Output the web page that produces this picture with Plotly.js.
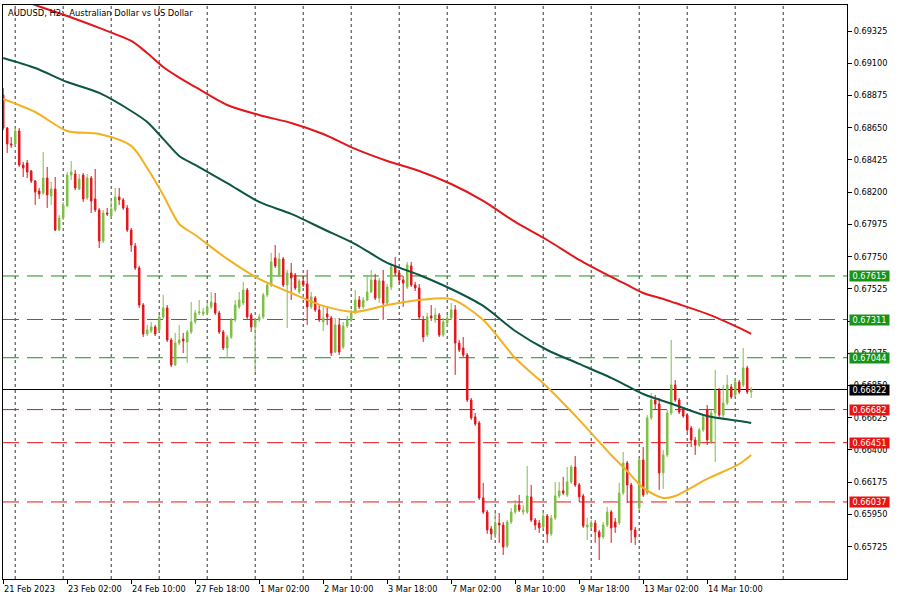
<!DOCTYPE html>
<html><head><meta charset="utf-8">
<script src="https://cdn.plot.ly/plotly-3.0.1.min.js"></script>
<style>html,body{margin:0;padding:0;background:#fff}#chart{width:900px;height:600px}</style>
</head><body><div id="chart"></div>
<script>
// AUDUSD H2 bars, first bar = 21 Feb 2023 18:00, one bar per 2 hours (weekends skipped)
const openP = [
0.68879,0.68648,0.68537,0.68537,0.68627,0.68390,0.68404,0.68348,0.68278,0.68208,
0.68194,0.68299,0.68174,0.68222,0.67936,0.68020,0.68104,0.68320,0.68327,0.68222,
0.68320,0.68160,0.68299,0.68153,0.68076,0.67859,0.68055,0.68034,0.68076,0.68167,
0.68146,0.68090,0.67936,0.67824,0.67671,0.67412,0.67210,0.67231,0.67259,0.67238,
0.67329,0.67392,0.67168,0.66994,0.67147,0.67175,0.67154,0.67224,0.67294,0.67357,
0.67350,0.67357,0.67399,0.67426,0.67357,0.67224,0.67112,0.67189,0.67308,0.67399,
0.67426,0.67517,0.67343,0.67259,0.67308,0.67329,0.67482,0.67552,0.67741,0.67622,
0.67734,0.67552,0.67636,0.67622,0.67503,0.67580,0.67559,0.67399,0.67461,0.67378,
0.67294,0.67350,0.67322,0.67084,0.67273,0.67119,0.67266,0.67308,0.67357,0.67447,
0.67399,0.67447,0.67503,0.67587,0.67461,0.67580,0.67426,0.67538,0.67685,0.67636,
0.67587,0.67538,0.67685,0.67552,0.67531,0.67308,0.67203,0.67336,0.67308,0.67343,
0.67203,0.67287,0.67322,0.67378,0.67147,0.67112,0.67063,0.66749,0.66631,0.66589,
0.66065,0.65967,0.65849,0.65814,0.65890,0.65876,0.65730,0.65897,0.65967,0.66016,
0.65967,0.65967,0.66072,0.65911,0.65890,0.65862,0.65939,0.65814,0.65925,0.66079,
0.66114,0.66086,0.66177,0.66281,0.66156,0.66079,0.65862,0.65862,0.65890,0.65828,
0.65793,0.65876,0.65967,0.65897,0.65890,0.66100,0.66309,0.66156,0.65842,0.65995,
0.66330,0.66100,0.66624,0.66749,0.66721,0.66240,0.66365,0.66658,0.66854,0.66749,
0.66679,0.66644,0.66554,0.66470,0.66435,0.66540,0.66679,0.66456,0.66658,0.66819,
0.66644,0.66728,0.66840,0.66784,0.66875,0.66854,0.66973,0.66805];
const highP = [
0.68928,0.68655,0.68585,0.68648,0.68648,0.68411,0.68425,0.68355,0.68285,0.68229,
0.68481,0.68376,0.68271,0.68306,0.68041,0.68132,0.68341,0.68418,0.68355,0.68327,
0.68334,0.68327,0.68313,0.68362,0.68090,0.68076,0.68090,0.68146,0.68229,0.68229,
0.68160,0.68111,0.67950,0.67845,0.67685,0.67426,0.67273,0.67294,0.67273,0.67343,
0.67482,0.67412,0.67182,0.67217,0.67273,0.67217,0.67238,0.67433,0.67378,0.67447,
0.67392,0.67426,0.67503,0.67496,0.67371,0.67238,0.67203,0.67322,0.67447,0.67503,
0.67573,0.67531,0.67357,0.67322,0.67350,0.67496,0.67573,0.67776,0.67831,0.67776,
0.67748,0.67657,0.67706,0.67636,0.67594,0.67615,0.67657,0.67503,0.67475,0.67412,
0.67412,0.67399,0.67336,0.67322,0.67322,0.67294,0.67336,0.67378,0.67517,0.67475,
0.67468,0.67622,0.67657,0.67629,0.67601,0.67657,0.67559,0.67699,0.67748,0.67657,
0.67615,0.67713,0.67713,0.67573,0.67559,0.67336,0.67357,0.67412,0.67392,0.67357,
0.67322,0.67343,0.67426,0.67412,0.67168,0.67189,0.67077,0.66763,0.66658,0.66603,
0.66170,0.65981,0.65869,0.65960,0.65960,0.65897,0.65911,0.65995,0.66051,0.66086,
0.66016,0.66288,0.66156,0.65925,0.65911,0.65967,0.65953,0.65946,0.66177,0.66177,
0.66212,0.66281,0.66295,0.66358,0.66170,0.66093,0.65925,0.65911,0.65911,0.65842,
0.65897,0.66002,0.65981,0.65925,0.66170,0.66386,0.66323,0.66170,0.65862,0.66344,
0.66421,0.66644,0.66798,0.66784,0.66763,0.66400,0.66679,0.67168,0.66889,0.66763,
0.66700,0.66658,0.66568,0.66491,0.66554,0.66651,0.66714,0.66679,0.66959,0.66833,
0.66854,0.66924,0.66861,0.66903,0.66889,0.67112,0.66987,0.66840];
const lowP = [
0.68634,0.68474,0.68509,0.68523,0.68376,0.68306,0.68299,0.68264,0.68111,0.68153,
0.68181,0.68090,0.68111,0.67929,0.67929,0.68006,0.68097,0.68285,0.68215,0.68215,
0.68132,0.68146,0.68055,0.68062,0.67810,0.67845,0.68034,0.68020,0.68062,0.68111,
0.68076,0.67922,0.67783,0.67657,0.67392,0.67189,0.67196,0.67217,0.67196,0.67224,
0.67315,0.67154,0.66980,0.66987,0.67133,0.67077,0.67008,0.67210,0.67280,0.67343,
0.67336,0.67343,0.67385,0.67343,0.67210,0.67098,0.67042,0.67175,0.67294,0.67385,
0.67412,0.67315,0.67224,0.66945,0.67294,0.67315,0.67468,0.67538,0.67671,0.67608,
0.67538,0.67252,0.67447,0.67517,0.67489,0.67538,0.67273,0.67385,0.67364,0.67294,
0.67231,0.67273,0.67056,0.67077,0.67063,0.67105,0.67252,0.67294,0.67350,0.67385,
0.67385,0.67440,0.67496,0.67447,0.67426,0.67308,0.67412,0.67517,0.67615,0.67559,
0.67399,0.67524,0.67538,0.67510,0.67308,0.67154,0.67189,0.67301,0.67287,0.67189,
0.67189,0.67259,0.67308,0.66924,0.67084,0.67049,0.66735,0.66610,0.66568,0.66051,
0.65953,0.65814,0.65772,0.65786,0.65751,0.65667,0.65716,0.65883,0.65953,0.65967,
0.65946,0.65953,0.65897,0.65842,0.65821,0.65849,0.65751,0.65800,0.65911,0.66065,
0.66086,0.66072,0.66163,0.66142,0.66037,0.65856,0.65772,0.65849,0.65751,0.65632,
0.65779,0.65862,0.65751,0.65821,0.65876,0.66086,0.66030,0.65751,0.65737,0.65981,
0.66072,0.66086,0.66610,0.66679,0.66121,0.66128,0.66351,0.66644,0.66735,0.66651,
0.66624,0.66526,0.66421,0.66365,0.66421,0.66526,0.66435,0.66442,0.66316,0.66631,
0.66631,0.66714,0.66756,0.66770,0.66791,0.66840,0.66791,0.66763];
const closeP = [
0.68648,0.68537,0.68530,0.68627,0.68390,0.68369,0.68341,0.68278,0.68201,0.68187,
0.68299,0.68181,0.68222,0.67936,0.68020,0.68111,0.68320,0.68341,0.68229,0.68292,
0.68153,0.68299,0.68139,0.68076,0.67859,0.68055,0.68048,0.68083,0.68167,0.68146,
0.68090,0.67936,0.67831,0.67671,0.67412,0.67210,0.67238,0.67259,0.67210,0.67329,
0.67392,0.67168,0.66994,0.67147,0.67168,0.67161,0.67224,0.67294,0.67357,0.67364,
0.67364,0.67399,0.67433,0.67357,0.67224,0.67112,0.67189,0.67308,0.67412,0.67447,
0.67517,0.67329,0.67259,0.67308,0.67329,0.67482,0.67552,0.67713,0.67685,0.67734,
0.67552,0.67636,0.67601,0.67531,0.67580,0.67552,0.67399,0.67468,0.67378,0.67308,
0.67322,0.67329,0.67077,0.67273,0.67084,0.67266,0.67308,0.67357,0.67447,0.67399,
0.67447,0.67503,0.67587,0.67461,0.67580,0.67426,0.67538,0.67678,0.67636,0.67587,
0.67566,0.67692,0.67552,0.67531,0.67329,0.67189,0.67329,0.67322,0.67343,0.67203,
0.67294,0.67322,0.67378,0.67147,0.67098,0.67063,0.66749,0.66624,0.66582,0.66065,
0.65967,0.65842,0.65814,0.65890,0.65876,0.65723,0.65897,0.65967,0.66016,0.65981,
0.65981,0.66079,0.65911,0.65876,0.65856,0.65939,0.65814,0.65925,0.66079,0.66114,
0.66100,0.66177,0.66281,0.66156,0.66072,0.65869,0.65876,0.65890,0.65828,0.65793,
0.65876,0.65967,0.65856,0.65862,0.66100,0.66309,0.66156,0.65842,0.65793,0.66330,
0.66086,0.66624,0.66749,0.66721,0.66240,0.66365,0.66658,0.66854,0.66749,0.66665,
0.66637,0.66540,0.66470,0.66435,0.66540,0.66631,0.66470,0.66658,0.66819,0.66644,
0.66728,0.66854,0.66770,0.66875,0.66805,0.66973,0.66805,0.66822];

// Moving averages, read at these bar numbers
const maBars = [0,8,16,24,32,36,40,44,48,56,64,72,80,88,96,104,112,120,128,136,144,152,156,160,165,168,176,184,187];
const ma50 = [0.68851,0.68760,0.68627,0.68606,0.68523,0.68369,0.68181,0.67978,0.67901,0.67734,0.67594,0.67496,0.67406,0.67364,0.67412,0.67447,0.67454,0.67308,0.67042,0.66840,0.66610,0.66365,0.66253,0.66135,0.66065,0.66079,0.66198,0.66302,0.66365];
const ma100 = [0.69137,0.69067,0.68969,0.68893,0.68767,0.68690,0.68572,0.68453,0.68390,0.68264,0.68132,0.68048,0.67943,0.67838,0.67706,0.67622,0.67524,0.67406,0.67231,0.67098,0.67001,0.66903,0.66847,0.66791,0.66742,0.66714,0.66637,0.66603,0.66589];
const ma200 = [0.69584,0.69507,0.69430,0.69347,0.69256,0.69172,0.69074,0.69000,0.68935,0.68809,0.68739,0.68683,0.68606,0.68502,0.68418,0.68348,0.68257,0.68139,0.67992,0.67866,0.67727,0.67608,0.67552,0.67496,0.67454,0.67426,0.67350,0.67252,0.67210];

// Horizontal levels
const greenLevels = [0.67615, 0.67311, 0.67044];
const redLevels = [0.66682, 0.66451, 0.66037];
const currentPrice = 0.66822;

// Axis ticks
const tickBars = [0,16,32,48,64,80,96,112,128,144,160,176];
const tickLabels = ['21 Feb 2023','23 Feb 02:00','24 Feb 10:00','27 Feb 18:00','1 Mar 02:00','2 Mar 10:00','3 Mar 18:00','7 Mar 02:00','8 Mar 10:00','9 Mar 18:00','13 Mar 02:00','14 Mar 10:00'];
const dayStartBars = [3,15,27,39,51,63,75,87,99,111,123,135,147,159,171,183,195];
const yTicks = [0.65725,0.65950,0.66175,0.66400,0.66625,0.66850,0.67075,0.67300,0.67525,0.67750,0.67975,0.68200,0.68425,0.68650,0.68875,0.69100,0.69325];

const INC = '#7dbf45', DEC = '#e3141b';
const GREEN = '#179417', RED = '#e81414';
const FONT = 'DejaVu Sans';

const barIdx = closeP.map((_, i) => i);

const traces = [
  {type:'candlestick', x:barIdx, open:openP, high:highP, low:lowP, close:closeP,
   increasing:{line:{color:INC,width:1}, fillcolor:INC},
   decreasing:{line:{color:DEC,width:1}, fillcolor:DEC},
   whiskerwidth:0, hoverinfo:'skip'},
  {type:'scatter', mode:'lines', x:maBars, y:ma200, line:{color:'#e3161c', width:2, shape:'spline', smoothing:0.8}, hoverinfo:'skip'},
  {type:'scatter', mode:'lines', x:maBars, y:ma100, line:{color:'#0d5544', width:2, shape:'spline', smoothing:0.8}, hoverinfo:'skip'},
  {type:'scatter', mode:'lines', x:maBars, y:ma50, line:{color:'#f3b122', width:2, shape:'spline', smoothing:0.8}, hoverinfo:'skip'}
];

const shapes = [];
dayStartBars.forEach(b => shapes.push({type:'line', xref:'x', yref:'paper', x0:b, x1:b, y0:0, y1:1, layer:'below',
  line:{color:'#333', width:1, dash:'3px,3px'}}));
greenLevels.forEach(v => shapes.push({type:'line', xref:'paper', yref:'y', x0:0, x1:1, y0:v, y1:v, layer:'below',
  line:{color:GREEN, width:1, dash:'16px,8px'}}));
redLevels.forEach(v => shapes.push({type:'line', xref:'paper', yref:'y', x0:0, x1:1, y0:v, y1:v, layer:'below',
  line:{color:RED, width:1, dash:'16px,8px'}}));
shapes.push({type:'line', xref:'paper', yref:'y', x0:0, x1:1, y0:currentPrice, y1:currentPrice, layer:'below',
  line:{color:'#000', width:1}});

const annotations = [];
tickBars.forEach((b, i) => annotations.push({xref:'x', yref:'paper', x:b, y:0, xanchor:'left', yanchor:'top',
  xshift:-1, yshift:-3, showarrow:false, text:tickLabels[i], font:{family:FONT, size:8.2, color:'#000'}}));
function levelLabel(v, color) {
  annotations.push({xref:'paper', yref:'y', x:1, y:v, xanchor:'left', yanchor:'middle', xshift:2,
    showarrow:false, text:v.toFixed(5), bgcolor:color, borderpad:0, width:39, height:10, align:'center',
    font:{family:FONT, size:8.2, color:'#fff'}});
}
greenLevels.forEach(v => levelLabel(v, GREEN));
levelLabel(currentPrice, '#000');
redLevels.forEach(v => levelLabel(v, RED));
annotations.push({xref:'paper', yref:'paper', x:0, y:1, xanchor:'left', yanchor:'top', xshift:3, yshift:-1,
  showarrow:false, text:'AUDUSD, H2:\u00a0 Australian Dollar vs US Dollar', font:{family:FONT, size:8.4, color:'#000'}});

const layout = {
  width:900, height:600, margin:{l:3, r:53, t:5, b:21, pad:0},
  paper_bgcolor:'#fff', plot_bgcolor:'#fff', showlegend:false, hovermode:false,
  font:{family:FONT, size:8.2, color:'#000'},
  boxgap:0.45,
  xaxis:{type:'linear', range:[-0.05, 210.95], showgrid:false, zeroline:false, showline:true, mirror:true,
    linecolor:'#000', linewidth:1, ticks:'outside', ticklen:4, tickcolor:'#000', tickvals:tickBars,
    showticklabels:false, rangeslider:{visible:false}, fixedrange:true},
  yaxis:{side:'right', range:[0.65499, 0.69507], showgrid:false, zeroline:false, showline:true, mirror:true,
    linecolor:'#000', linewidth:1, ticks:'outside', ticklen:4, tickcolor:'#000', tickvals:yTicks,
    ticktext:yTicks.map(v => v.toFixed(5)), tickfont:{family:FONT, size:8.2, color:'#000'}, fixedrange:true},
  shapes:shapes, annotations:annotations
};

Plotly.newPlot('chart', traces, layout, {staticPlot:true, displayModeBar:false});
</script>
</body></html>
